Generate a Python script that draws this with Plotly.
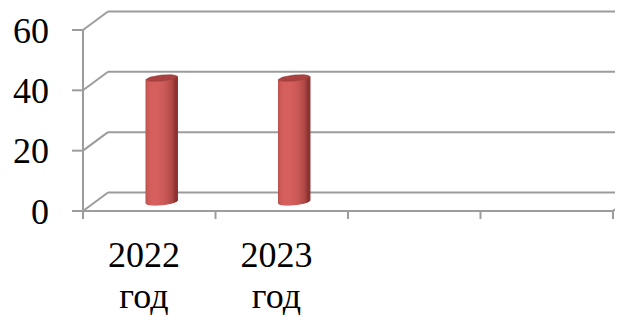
import numpy as np
import plotly.graph_objects as go

# ---------------- data ----------------
categories = ["2022 год", "2023 год", "", ""]
values = [41, 41, None, None]
y_ticks = [0, 20, 40, 60]
y_tick_labels = ["0", "20", "40", "60"]

# ---------------- geometry / style ----------------
W, H = 623, 316
PAGE_OFF = 8                     # default page body margin
X0_PX, Y0_PX = 83 - PAGE_OFF, 211 - PAGE_OFF   # figure pixel of category-edge 0 / value 0
PX_PER_CAT, PX_PER_VAL = 132.5, 3.017
DX = 25 / PX_PER_CAT             # depth offset (category units)
DY = 18.5 / PX_PER_VAL           # depth offset (value units)
XR = [-X0_PX / PX_PER_CAT, (W - X0_PX) / PX_PER_CAT]
YR = [-(H - Y0_PX) / PX_PER_VAL, Y0_PX / PX_PER_VAL]

GRID = "#9c9c9c"
FONT = "Liberation Serif, Times New Roman, serif"
n_cat = len(categories)
ymax = max(y_ticks)

fig = go.Figure()

# ---------- walls, gridlines, axes ----------
lx, ly = [], []
def seg(x1, y1, x2, y2):
    lx.extend([x1, x2, None]); ly.extend([y1, y2, None])

for t in y_ticks:
    seg(0, t, DX, t + DY)                    # side wall diagonal
    seg(DX, t + DY, n_cat + DX, t + DY)      # back wall gridline
    seg(-11 / PX_PER_CAT, t, 0, t)           # y tick mark
seg(0, 0, 0, ymax)                           # vertical value axis
seg(0, 0, n_cat, 0)                          # front floor edge
seg(n_cat, 0, n_cat + DX, DY)                # right floor diagonal
for i in range(n_cat + 1):
    seg(i, 0, i, -8 / PX_PER_VAL)            # category tick marks

fig.add_trace(go.Scatter(x=lx, y=ly, mode="lines",
                         line=dict(color=GRID, width=2), hoverinfo="skip"))

# ---------- cylinders ----------
RX = 15.5 / PX_PER_CAT
RY = 3.0 / PX_PER_VAL
SLANT = (1.5 / PX_PER_VAL) / RX
dark = np.array([0x88, 0x30, 0x2e])
light = np.array([0xd6, 0x60, 0x5d])
N = 31

def col(c):
    return "rgb(%d,%d,%d)" % tuple(int(round(v)) for v in c)

for i, v in enumerate(values):
    if v is None:
        continue
    cx = i + 0.5 + DX / 2
    base = DY / 2
    top = v + DY / 2
    th = np.linspace(np.pi, 2 * np.pi, N + 1)
    xs = cx + RX * np.cos(th)
    off = RY * np.sin(th) + SLANT * RX * np.cos(th)
    for k in range(N):
        a = (th[k] + th[k + 1]) / 2 - 1.5 * np.pi
        f = max(0.0, np.cos(a + 0.45)) ** 0.8
        c = dark + (light - dark) * (0.08 + 0.92 * f)
        px = [xs[k], xs[k + 1], xs[k + 1], xs[k], xs[k]]
        py = [base + off[k], base + off[k + 1], top + off[k + 1], top + off[k], base + off[k]]
        fig.add_trace(go.Scatter(x=px, y=py, mode="lines", fill="toself",
                                 fillcolor=col(c), line=dict(color=col(c), width=1),
                                 hoverinfo="skip"))
    tt = np.linspace(0, 2 * np.pi, 80)
    ex = cx + RX * np.cos(tt)
    ey = top + RY * np.sin(tt) + SLANT * RX * np.cos(tt)
    fig.add_trace(go.Scatter(x=ex, y=ey, mode="lines", fill="toself",
                             fillcolor="#a8413f", line=dict(color="#9e3c3a", width=0.6),
                             hoverinfo="skip"))

# ---------- text ----------
fig.add_trace(go.Scatter(
    x=[-34 / PX_PER_CAT] * len(y_ticks), y=[t - 1.2 for t in y_ticks],
    text=y_tick_labels, mode="text", textposition="middle left",
    textfont=dict(family=FONT, size=36, color="black"), hoverinfo="skip"))

line1, line2, cx_list = [], [], []
for i, c in enumerate(categories):
    parts = c.split(" ")
    if c:
        line1.append(parts[0]); line2.append(" ".join(parts[1:])); cx_list.append(i + 0.5 - 0.04)
fig.add_trace(go.Scatter(x=cx_list, y=[-15.6] * len(cx_list), text=line1, mode="text",
                         textfont=dict(family=FONT, size=36, color="black"), hoverinfo="skip"))
fig.add_trace(go.Scatter(x=cx_list, y=[-29.3] * len(cx_list), text=line2, mode="text",
                         textfont=dict(family=FONT, size=36, color="black"), hoverinfo="skip"))

# ---------- layout ----------
fig.update_layout(
    width=W, height=H, margin=dict(l=0, r=0, t=0, b=0),
    paper_bgcolor="white", plot_bgcolor="white", showlegend=False,
    xaxis=dict(range=XR, visible=False, fixedrange=True),
    yaxis=dict(range=YR, visible=False, fixedrange=True),
)
fig.write_html("out.html")
